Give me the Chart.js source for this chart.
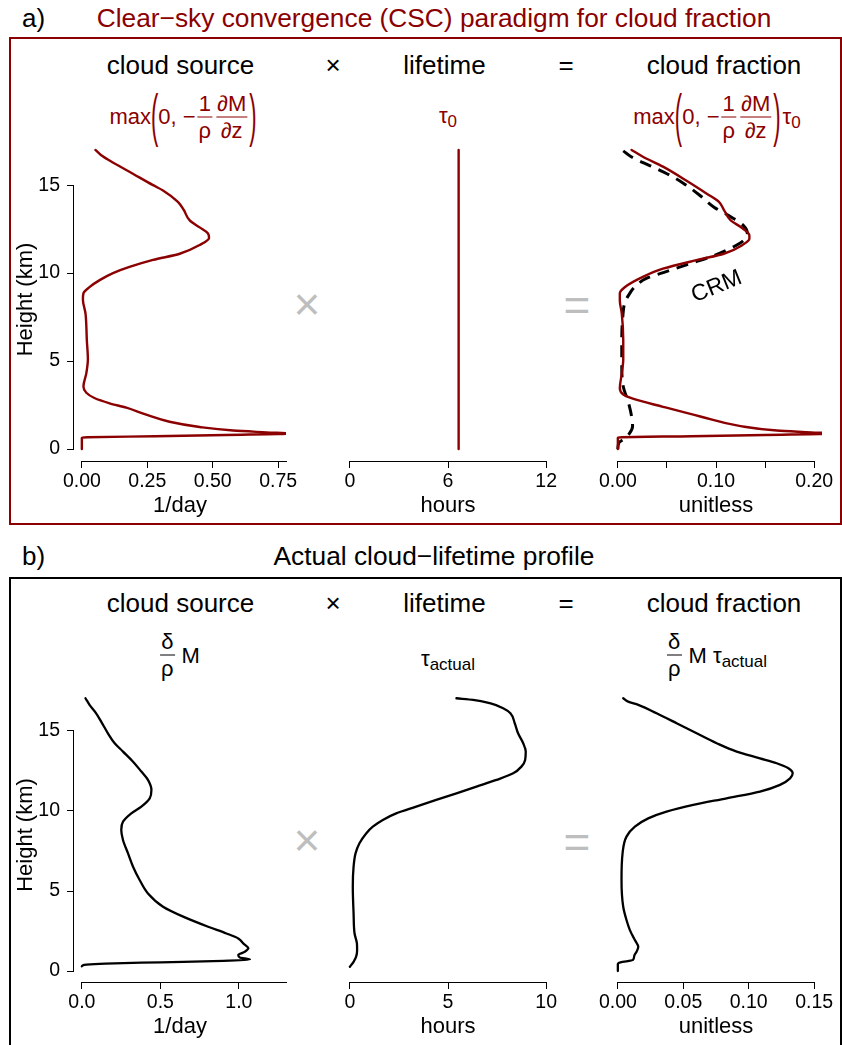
<!DOCTYPE html>
<html>
<head>
<meta charset="utf-8">
<title>Cloud fraction = cloud source × lifetime</title>
<script src="https://cdn.jsdelivr.net/npm/chart.js@4.4.1/dist/chart.umd.min.js"></script>
<style>
  html, body { margin: 0; background: #fff; }
  #page { position: relative; width: 842px; height: 1045px; overflow: hidden; background: #fff;
          font-family: "Liberation Sans", Arial, Helvetica, sans-serif; color: #000; }
  #page canvas { position: absolute; }
  .box { position: absolute; box-sizing: border-box; border: 2px solid #000; }
  .lbl { position: absolute; white-space: nowrap; line-height: 1; }
  .math { position: absolute; display: inline-flex; align-items: center; white-space: nowrap;
          line-height: 1; font-size: 22px; transform: translate(-50%, -50%); }
  .math > span { line-height: 1; }
  .fr { display: inline-flex; flex-direction: column; align-items: center; margin: 0 2px; }
  .fr > span { line-height: 1; padding: 0 1px; }
  .fr > i { display: block; align-self: stretch; border-top: 1px solid currentColor; margin: 2px 0; }
  .par { display: inline-block; transform: scaleY(2.6); }
  .sb { font-size: 17px; position: relative; top: 4px; }
</style>
</head>
<body>
<div id="page"></div>
<script>
// ---------------- data ----------------
const heightLim = [0, 17];                       // km
const heightTicks = [0, 5, 10, 15];
const heightTickText = ['0', '5', '10', '15'];

// a) clear-sky convergence (CSC) paradigm
const cscSourceHeight = [17.0, 16.7, 16.4, 15.65, 15.0, 14.7, 14.05, 13.6, 13.0, 12.6, 12.25, 12.0,
  11.6, 11.1, 10.75, 10.35, 10.0, 9.6, 9.2, 8.85, 8.5, 7.7, 6.2, 5.1, 4.3, 3.55, 3.2, 2.9, 2.6,
  2.35, 1.95, 1.55, 1.25, 1.05, 0.95, 0.88, 0.80, 0.73, 0.67, 0.64, 0.0];
const cscSourceValue = [0.052, 0.074, 0.106, 0.195, 0.272, 0.31, 0.367, 0.389, 0.412, 0.45, 0.482, 0.486,
  0.45, 0.374, 0.272, 0.182, 0.119, 0.068, 0.029, 0.006, 0.004, 0.014, 0.019, 0.023, 0.017, 0.006, 0.017,
  0.048, 0.106, 0.17, 0.246, 0.335, 0.45, 0.578, 0.705, 0.80, 0.55, 0.28, 0.02, 0.0, 0.0];   // 1/day

const tau0Hours = [6.65, 6.65];
const tau0Height = [0, 17];

const cscFractionHeight = [17.0, 16.6, 16.05, 15.25, 14.5, 14.05, 13.6, 13.0, 12.55, 12.15, 11.95, 11.6,
  11.1, 10.75, 10.25, 9.8, 9.2, 8.85, 8.45, 7.7, 6.2, 5.1, 4.3, 3.45, 3.1, 2.85, 2.4, 1.85, 1.3, 1.05,
  0.95, 0.88, 0.80, 0.73, 0.67, 0.64, 0.0];
const cscFractionValue = [0.014, 0.026, 0.046, 0.070, 0.091, 0.103, 0.108, 0.115, 0.127, 0.134, 0.134, 0.127,
  0.108, 0.081, 0.046, 0.026, 0.007, 0.002, 0.002, 0.004, 0.0055, 0.0055, 0.004, 0.002, 0.0055, 0.016,
  0.046, 0.084, 0.125, 0.162, 0.197, 0.22, 0.15, 0.075, 0.004, 0.0, 0.0];

const crmFractionHeight = [16.95, 16.6, 16.1, 15.65, 15.1, 14.4, 13.75, 13.2, 12.7, 12.25, 11.85, 11.5,
  11.0, 10.55, 10.1, 9.7, 9.2, 8.75, 8.3, 7.5, 6.2, 4.7, 3.55, 2.6, 1.85, 1.3, 0.9, 0.6, 0.35, 0.0];
const crmFractionValue = [0.0055, 0.014, 0.033, 0.050, 0.067, 0.084, 0.098, 0.115, 0.128, 0.132, 0.128, 0.118,
  0.098, 0.074, 0.050, 0.029, 0.017, 0.011, 0.007, 0.005, 0.004, 0.004, 0.0055, 0.011, 0.014, 0.015,
  0.012, 0.007, 0.001, 0.0];

// b) actual cloud-lifetime profile
const actSourceHeight = [17.04, 16.63, 16.1, 15.58, 14.85, 14.23, 13.71, 13.08, 12.46, 11.94, 11.31, 10.79,
  10.27, 9.85, 9.33, 8.81, 8.19, 7.35, 6.52, 5.69, 4.85, 4.02, 3.4, 2.77, 2.35, 2.04, 1.73, 1.42, 1.21,
  1.0, 0.85, 0.73, 0.64, 0.55, 0.47, 0.41, 0.35, 0.3];
const actSourceValue = [0.023, 0.049, 0.091, 0.123, 0.166, 0.209, 0.262, 0.326, 0.379, 0.421, 0.443, 0.432,
  0.379, 0.315, 0.262, 0.251, 0.262, 0.294, 0.326, 0.368, 0.421, 0.517, 0.645, 0.804, 0.921, 0.996, 1.028,
  1.06, 1.038, 0.996, 1.006, 1.07, 0.9, 0.5, 0.15, 0.03, 0.005, 0.0];

const actLifetimeHeight = [17.04, 16.94, 16.73, 16.42, 16.1, 15.48, 14.85, 14.23, 13.71, 13.19, 12.77, 12.35,
  11.94, 11.52, 11.1, 10.69, 10.27, 9.85, 9.44, 9.02, 8.6, 7.98, 7.35, 6.52, 5.27, 3.6, 2.35, 1.73, 1.31,
  0.9, 0.58, 0.27];
const actLifetimeHours = [5.43, 6.28, 7.13, 7.81, 8.18, 8.40, 8.57, 8.83, 8.96, 8.93, 8.74, 8.32,
  7.47, 6.45, 5.43, 4.40, 3.38, 2.36, 1.68, 1.17, 0.83, 0.49, 0.29, 0.19, 0.15, 0.19, 0.24, 0.36, 0.37,
  0.32, 0.19, 0.0];

const actFractionHeight = [17.04, 16.83, 16.63, 16.1, 15.48, 14.85, 14.23, 13.71, 13.29, 12.98, 12.67, 12.35,
  12.04, 11.63, 11.21, 10.79, 10.38, 9.96, 9.54, 9.02, 8.4, 7.35, 5.69, 4.02, 3.19, 2.56, 1.94, 1.52, 1.21,
  0.95, 0.69, 0.55, 0.45, 0.0];
const actFractionValue = [0.0041, 0.0079, 0.0156, 0.0296, 0.0449, 0.0602, 0.0755, 0.0908, 0.1086, 0.1214,
  0.1303, 0.1336, 0.1316, 0.1239, 0.1086, 0.0831, 0.0576, 0.0372, 0.0232, 0.013, 0.0066, 0.0036, 0.0028,
  0.0041, 0.0066, 0.0092, 0.013, 0.0156, 0.0143, 0.0125, 0.0115, 0.002, 0.0, 0.0];

// axis limits and ticks
const sourceLimA = [0, 0.75], lifeLimA = [0, 12], fracLimA = [0, 0.2];
const sourceLimB = [0, 1.25], lifeLimB = [0, 10], fracLimB = [0, 0.15];
const sourceTicksA = [0, 0.25, 0.5, 0.75, 1.0];
const sourceTickTextA = ['0.00', '0.25', '0.50', '0.75', '1.00'];
const lifeTicksA = [0, 6, 12];
const lifeTickTextA = ['0', '6', '12'];
const fracTicksA = [0, 0.05, 0.1, 0.15, 0.2];
const fracTickTextA = ['0.00', '', '0.10', '', '0.20'];
const sourceTicksB = [0, 0.5, 1.0, 1.5];
const sourceTickTextB = ['0.0', '0.5', '1.0', '1.5'];
const lifeTicksB = [0, 5, 10];
const lifeTickTextB = ['0', '5', '10'];
const fracTicksB = [0, 0.05, 0.1, 0.15];
const fracTickTextB = ['0.00', '0.05', '0.10', '0.15'];

// ---------------- styling ----------------
const DARKRED = '#8B0000';
const GREY = '#BEBEBE';
const FONT = '"Liberation Sans", Arial, Helvetica, sans-serif';
Chart.defaults.font.family = FONT;
Chart.defaults.color = '#000';

const page = document.getElementById('page');

function rRange(lim) { const d = (lim[1] - lim[0]) * 0.04; return [lim[0] - d, lim[1] + d]; }

// R-style axis lines: drawn only between the first and last tick, clipped to the plot region
const rAxis = {
  id: 'rAxis',
  afterDraw(chart, args, o) {
    const { ctx, chartArea } = chart;
    ctx.save();
    ctx.strokeStyle = '#000';
    ctx.lineWidth = 1;
    const xs = chart.scales.x;
    if (o.x) {
      const y = Math.round(xs.top) + 0.5;
      const a = Math.max(chartArea.left, xs.getPixelForValue(o.x[0]));
      const b = Math.min(chartArea.right, xs.getPixelForValue(o.x[1]));
      ctx.beginPath(); ctx.moveTo(Math.round(a - 0.5), y); ctx.lineTo(Math.round(b - 0.5) + 1, y); ctx.stroke();
    }
    const ys = chart.scales.y;
    if (o.y && ys.options.display) {
      const x = Math.round(ys.right) - 0.5;
      const a = ys.getPixelForValue(o.y[0]);
      const b = ys.getPixelForValue(o.y[1]);
      ctx.beginPath(); ctx.moveTo(x, Math.round(a - 0.5) + 1); ctx.lineTo(x, Math.round(b - 0.5)); ctx.stroke();
    }
    ctx.restore();
  }
};

// rotated curve label placed at data coordinates
const curveTag = {
  id: 'curveTag',
  afterDatasetsDraw(chart, args, o) {
    if (!o || !o.text) return;
    const { ctx, scales: { x, y } } = chart;
    ctx.save();
    ctx.translate(x.getPixelForValue(o.x), y.getPixelForValue(o.y));
    ctx.rotate(o.angle * Math.PI / 180);
    ctx.font = o.size + 'px ' + FONT;
    ctx.fillStyle = '#000';
    ctx.textAlign = 'center';
    ctx.textBaseline = 'middle';
    ctx.fillText(o.text, 0, 0);
    ctx.restore();
  }
};

function profilePlot(p) {
  const padL = 74, padT = 20, padR = 40, axisH = 60;
  const W = padL + p.area.w + padR, H = padT + p.area.h + axisH;
  const cv = document.createElement('canvas');
  cv.width = W; cv.height = H;
  Object.assign(cv.style, { left: (p.area.x - padL) + 'px', top: (p.area.y - padT) + 'px',
                            width: W + 'px', height: H + 'px' });
  page.appendChild(cv);

  const [xMin, xMax] = rRange(p.xlim);
  const [yMin, yMax] = rRange(heightLim);
  const tickSet = (vals, min, max) => s => {
    s.ticks = vals.filter(v => v >= min - 1e-9 && v <= max + 1e-9).map(v => ({ value: v }));
  };
  const tickText = (vals, texts) => v => { const i = vals.indexOf(v); return i < 0 ? '' : texts[i]; };

  return new Chart(cv, {
    type: 'line',
    data: {
      datasets: p.series.map(s => ({
        data: s.h.map((h, i) => ({ x: s.v[i], y: h })),
        borderColor: s.color,
        borderWidth: s.width,
        borderDash: s.dash || [],
        borderCapStyle: s.dash ? 'butt' : 'round',
        borderJoinStyle: 'round',
        pointRadius: 0,
        fill: false,
        tension: 0.4,
        cubicInterpolationMode: 'monotone',
        order: s.order || 0
      }))
    },
    options: {
      responsive: false,
      animation: false,
      devicePixelRatio: 1,
      indexAxis: 'y',
      events: [],
      layout: { padding: { left: p.showY ? 0 : padL, top: padT, right: padR, bottom: 0 } },
      plugins: {
        legend: { display: false },
        tooltip: { enabled: false },
        rAxis: { x: [p.xTicks[0], p.xTicks[p.xTicks.length - 1]], y: [heightTicks[0], heightTicks[heightTicks.length - 1]] },
        curveTag: p.tag || {}
      },
      scales: {
        x: {
          type: 'linear', position: 'bottom', min: xMin, max: xMax,
          afterBuildTicks: tickSet(p.xTicks, xMin, xMax),
          afterFit: s => { s.height = axisH; },
          grid: { drawOnChartArea: false, drawTicks: true, tickLength: 7, color: '#000', lineWidth: 1 },
          border: { display: false },
          ticks: { color: '#000', font: { size: 19.5 }, padding: 2, autoSkip: false,
                   maxRotation: 0, minRotation: 0, callback: tickText(p.xTicks, p.xTickText) },
          title: { display: true, text: p.xTitle, color: '#000', font: { size: 22 },
                   padding: { top: 0, bottom: 1.5 } }
        },
        y: {
          type: 'linear', position: 'left', min: yMin, max: yMax, display: p.showY,
          afterBuildTicks: tickSet(heightTicks, yMin, yMax),
          afterFit: s => { s.width = p.showY ? padL : 0; },
          grid: { drawOnChartArea: false, drawTicks: true, tickLength: 7, color: '#000', lineWidth: 1 },
          border: { display: false },
          ticks: { color: '#000', font: { size: 19.5 }, padding: 7, autoSkip: false,
                   callback: tickText(heightTicks, heightTickText) },
          title: { display: true, text: 'Height (km)', color: '#000', font: { size: 22 },
                   padding: { top: 12.5, bottom: 0 } }
        }
      }
    },
    plugins: [rAxis, curveTag]
  });
}

// ---------------- text helpers ----------------
function label(text, x, base, size, color, align) {
  const el = document.createElement('div');
  el.className = 'lbl';
  el.textContent = text;
  el.style.fontSize = size + 'px';
  el.style.color = color || '#000';
  el.style.top = (base - 0.8465 * size) + 'px';
  el.style.left = x + 'px';
  if (align !== 'left') el.style.transform = 'translateX(-50%)';
  page.appendChild(el);
}
function glyph(text, cx, cy, size, color) {
  const el = document.createElement('div');
  el.className = 'lbl';
  el.textContent = text;
  el.style.fontSize = size + 'px';
  el.style.color = color;
  el.style.left = cx + 'px';
  el.style.top = cy + 'px';
  el.style.transform = 'translate(-50%, -50%)';
  page.appendChild(el);
}
function math(html, cx, axisY, color) {
  const el = document.createElement('div');
  el.className = 'math';
  el.innerHTML = html;
  el.style.left = cx + 'px';
  el.style.top = axisY + 'px';
  el.style.color = color;
  page.appendChild(el);
}
function box(x, y, w, h, color) {
  const el = document.createElement('div');
  el.className = 'box';
  Object.assign(el.style, { left: x + 'px', top: y + 'px', width: w + 'px', height: h + 'px', borderColor: color });
  page.appendChild(el);
}
const frac = (n, d) => `<span class="fr"><span>${n}</span><i></i><span>${d}</span></span>`;
const lpar = '<span class="par">(</span>', rpar = '<span class="par">)</span>';

// ---------------- layout ----------------
const colX = [74, 342, 610], colW = 212;
const rowA = { y: 138, h: 323 }, rowB = { y: 688, h: 294 };
const area = (c, r) => ({ x: colX[c], y: r.y, w: colW, h: r.h });

// panel frames and titles
box(9, 37, 833, 488, DARKRED);
box(9, 577, 833, 520, '#000');
label('a)', 22, 27.5, 26, '#000', 'left');
label('Clear\u2212sky convergence (CSC) paradigm for cloud fraction', 434, 27.5, 26.3, DARKRED);
label('b)', 22, 565, 26, '#000', 'left');
label('Actual cloud\u2212lifetime profile', 434, 565, 26.3, '#000');

// column headings
for (const base of [74, 612]) {
  label('cloud source', 180.5, base, 26);
  label('\u00D7', 333, base, 26);
  label('lifetime', 444.5, base, 26);
  label('=', 566, base, 26);
  label('cloud fraction', 724, base, 26);
}

// formulas, panel a
const cscSrc = `<span>max</span>${lpar}<span>0, \u2212</span>${frac('1', '\u03C1')}${frac('\u2202M', '\u2202z')}${rpar}`;
math(cscSrc, 183, 116.5, DARKRED);
math('<span>\u03C4<span class="sb">0</span></span>', 448, 115.5, DARKRED);
math(cscSrc + '<span style="margin-left:2px">\u03C4<span class="sb">0</span></span>', 717, 116.5, DARKRED);

// formulas, panel b
math(`${frac('\u03B4', '\u03C1')}<span style="margin-left:5px">M</span>`, 179, 655, '#000');
math('<span>\u03C4<span class="sb">actual</span></span>', 448, 658.5, '#000');
math(`${frac('\u03B4', '\u03C1')}<span style="margin-left:5px">M \u03C4<span class="sb">actual</span></span>`, 716, 655, '#000');

// large operators between the profile columns
glyph('\u00D7', 307, 303.5, 46, GREY);
glyph('=', 577, 305, 46, GREY);
glyph('\u00D7', 307, 840, 46, GREY);
glyph('=', 577, 842, 46, GREY);

// ---------------- profile plots ----------------
profilePlot({ area: area(0, rowA), showY: true, xlim: sourceLimA, xTicks: sourceTicksA, xTickText: sourceTickTextA,
  xTitle: '1/day', series: [{ h: cscSourceHeight, v: cscSourceValue, color: DARKRED, width: 2.4 }] });
profilePlot({ area: area(1, rowA), showY: false, xlim: lifeLimA, xTicks: lifeTicksA, xTickText: lifeTickTextA,
  xTitle: 'hours', series: [{ h: tau0Height, v: tau0Hours, color: DARKRED, width: 2.4 }] });
profilePlot({ area: area(2, rowA), showY: false, xlim: fracLimA, xTicks: fracTicksA, xTickText: fracTickTextA,
  xTitle: 'unitless',
  series: [
    { h: cscFractionHeight, v: cscFractionValue, color: DARKRED, width: 2.4, order: 0 },
    { h: crmFractionHeight, v: crmFractionValue, color: '#000', width: 3, dash: [12, 8], order: 1 }
  ],
  tag: { text: 'CRM', x: 0.1007, y: 9.22, angle: -22, size: 23 } });

profilePlot({ area: area(0, rowB), showY: true, xlim: sourceLimB, xTicks: sourceTicksB, xTickText: sourceTickTextB,
  xTitle: '1/day', series: [{ h: actSourceHeight, v: actSourceValue, color: '#000', width: 2.3 }] });
profilePlot({ area: area(1, rowB), showY: false, xlim: lifeLimB, xTicks: lifeTicksB, xTickText: lifeTickTextB,
  xTitle: 'hours', series: [{ h: actLifetimeHeight, v: actLifetimeHours, color: '#000', width: 2.3 }] });
profilePlot({ area: area(2, rowB), showY: false, xlim: fracLimB, xTicks: fracTicksB, xTickText: fracTickTextB,
  xTitle: 'unitless', series: [{ h: actFractionHeight, v: actFractionValue, color: '#000', width: 2.3 }] });
</script>
</body>
</html>
